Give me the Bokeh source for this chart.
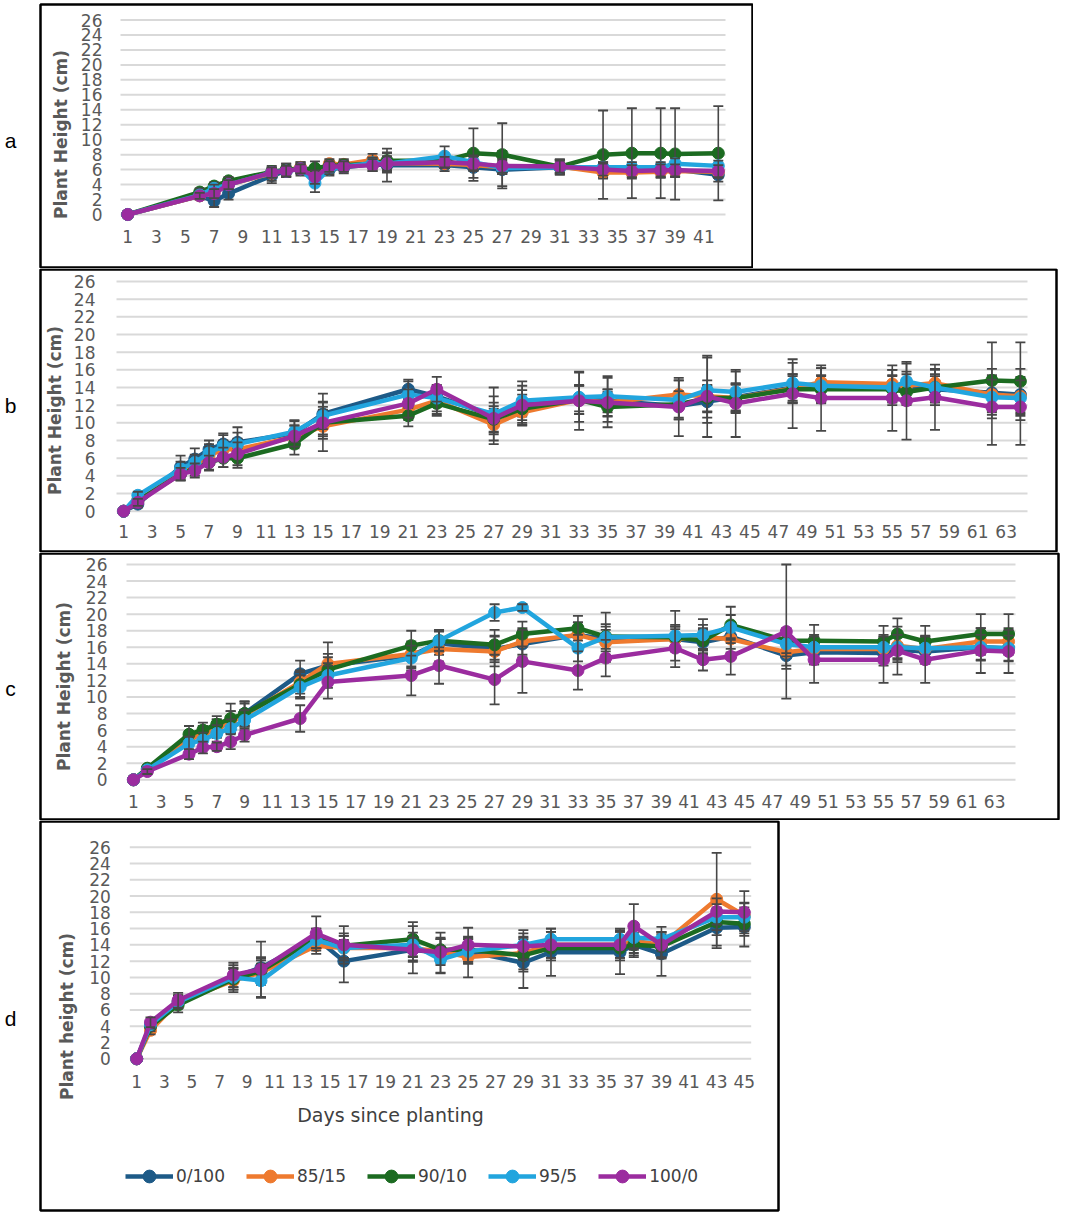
from bokeh.plotting import figure
from bokeh.models import (FixedTicker, Range1d, BoxAnnotation, Label, Legend,
                          LegendItem, ColumnDataSource, AllLabels)
from bokeh.layouts import column
from bokeh.embed import file_html
from bokeh.resources import INLINE

# ---------------- data ----------------
SERIES = ["0/100", "85/15", "90/10", "95/5", "100/0"]

DAYS_A = [1, 6, 7, 8, 11, 12, 13, 14, 15, 16, 18, 19, 23, 25, 27, 31, 34, 36, 38, 39, 42]
MEAN_A = [
    [0, 2.5, 1.8, 2.8, 5.2, 5.8, 6.2, 5.5, 6.0, 6.3, 6.7, 6.6, 6.6, 6.3, 6.0, 6.3, 6.0, 5.9, 5.9, 6.0, 5.3],
    [0, 2.5, 3.0, 4.0, 5.5, 5.9, 6.3, 5.8, 6.8, 6.7, 7.3, 6.9, 6.8, 6.6, 6.3, 6.4, 5.6, 5.6, 5.7, 5.8, 5.7],
    [0, 3.0, 3.8, 4.5, 5.7, 6.0, 6.0, 6.2, 6.5, 6.6, 6.8, 7.2, 7.2, 8.2, 8.0, 6.4, 8.0, 8.2, 8.2, 8.1, 8.2],
    [0, 2.6, 3.5, 4.0, 5.6, 5.8, 6.1, 4.2, 6.1, 6.4, 6.9, 6.8, 7.8, 7.0, 6.2, 6.3, 6.3, 6.3, 6.3, 6.8, 6.5],
    [0, 2.5, 2.8, 4.0, 5.6, 5.8, 6.1, 5.0, 6.4, 6.4, 6.6, 6.8, 7.0, 6.8, 6.5, 6.4, 6.0, 5.8, 5.9, 5.9, 5.8],
]
ERR_A = [
    [0, 0.5, 0.8, 0.8, 1.0, 0.8, 0.8, 1.0, 0.8, 0.8, 0.9, 2.2, 0.8, 1.8, 2.5, 1.0, 1.0, 0.9, 0.9, 0.9, 0.9],
    [0, 0.4, 0.6, 0.6, 1.0, 0.9, 0.7, 0.8, 0.6, 0.7, 0.8, 1.3, 0.6, 0.8, 0.9, 0.9, 0.8, 0.8, 0.8, 0.8, 0.8],
    [0, 0.5, 0.5, 0.5, 0.6, 0.8, 0.8, 0.9, 0.6, 0.6, 0.8, 1.1, 0.7, 3.3, 4.2, 1.0, 5.9, 6.0, 6.0, 6.1, 6.3],
    [0, 0.4, 0.5, 0.5, 0.6, 0.7, 0.6, 1.2, 0.7, 0.6, 0.7, 0.9, 1.3, 0.9, 0.8, 0.7, 0.7, 0.7, 0.7, 0.7, 0.7],
    [0, 0.4, 0.6, 0.6, 0.7, 0.7, 0.6, 0.9, 0.7, 0.7, 0.8, 1.0, 0.7, 0.9, 0.9, 0.8, 0.8, 0.8, 0.8, 0.8, 0.8],
]

DAYS_BC = [1, 2, 5, 6, 7, 8, 9, 13, 15, 21, 23, 27, 29, 33, 35, 40, 42, 44, 48, 50, 55, 56, 58, 62, 64]
MEAN_B = [
    [0, 0.8, 5.0, 5.9, 7.0, 7.6, 7.8, 8.8, 11.0, 13.8, 13.0, 10.8, 12.2, 12.8, 12.5, 11.9, 12.4, 12.9, 14.0, 13.9, 13.9, 14.0, 13.8, 13.4, 13.2],
    [0, 1.2, 4.3, 5.2, 6.3, 7.0, 7.0, 8.4, 9.6, 11.5, 12.5, 9.8, 11.2, 12.6, 12.3, 13.2, 13.0, 12.8, 13.9, 14.6, 14.4, 14.2, 14.5, 13.2, 13.0],
    [0, 1.2, 4.2, 4.8, 5.5, 6.0, 6.0, 7.6, 10.0, 10.8, 12.2, 10.4, 11.6, 12.6, 11.8, 12.1, 12.8, 12.8, 13.8, 13.8, 13.8, 13.5, 14.0, 14.8, 14.7],
    [0, 1.8, 4.8, 5.5, 6.6, 7.4, 7.6, 9.0, 10.8, 13.2, 12.8, 11.0, 12.5, 12.9, 13.0, 12.6, 13.7, 13.5, 14.5, 14.2, 14.0, 14.7, 14.0, 12.9, 12.8],
    [0, 1.0, 4.2, 4.6, 5.5, 6.1, 6.5, 8.5, 10.0, 12.2, 13.8, 10.5, 12.0, 12.5, 12.3, 11.8, 13.0, 12.2, 13.3, 12.8, 12.8, 12.5, 12.9, 11.8, 11.8],
]
ERR_B = [
    [0, 0.4, 1.3, 1.2, 1.0, 1.2, 1.7, 1.5, 2.3, 1.1, 1.2, 3.2, 1.5, 1.5, 1.3, 1.5, 1.8, 1.5, 1.5, 1.5, 1.5, 1.5, 1.5, 2.0, 2.0],
    [0, 0.4, 0.8, 0.9, 1.0, 1.0, 1.2, 1.3, 2.8, 1.2, 1.5, 1.8, 1.5, 1.6, 1.5, 1.6, 1.8, 1.7, 1.6, 1.6, 1.6, 1.6, 1.6, 2.0, 2.0],
    [0, 0.4, 0.7, 0.8, 0.9, 1.0, 1.1, 1.2, 1.5, 1.2, 1.4, 1.5, 1.6, 1.6, 1.7, 1.5, 1.5, 1.5, 1.5, 1.5, 1.5, 1.5, 1.5, 4.3, 4.4],
    [0, 0.4, 0.8, 0.9, 1.0, 1.2, 1.3, 1.2, 1.5, 1.5, 1.5, 2.0, 2.2, 2.8, 2.3, 2.2, 3.7, 2.3, 2.3, 2.0, 2.0, 2.0, 2.0, 2.0, 2.0],
    [0, 0.4, 0.7, 0.8, 0.8, 1.1, 1.3, 1.2, 1.8, 1.6, 1.4, 1.8, 2.2, 3.3, 2.8, 3.3, 4.6, 3.8, 3.9, 3.7, 3.7, 4.4, 3.7, 4.3, 4.3],
]

MEAN_C = [
    [0, 1.3, 5.0, 5.5, 6.2, 7.0, 8.0, 12.8, 13.8, 15.0, 16.5, 15.8, 16.4, 17.5, 17.0, 17.0, 16.6, 17.3, 15.0, 15.4, 15.3, 15.7, 15.5, 16.0, 15.9],
    [0, 1.2, 5.0, 5.5, 6.2, 7.0, 7.8, 11.8, 14.0, 15.2, 15.8, 15.5, 16.7, 17.5, 16.6, 17.0, 17.2, 17.0, 15.4, 15.8, 15.8, 16.2, 15.8, 16.7, 16.7],
    [0, 1.4, 5.5, 6.0, 6.7, 7.4, 8.0, 11.5, 13.3, 16.2, 16.8, 16.3, 17.6, 18.3, 17.3, 17.2, 16.8, 18.7, 16.8, 16.8, 16.7, 17.6, 16.7, 17.6, 17.6],
    [0, 1.2, 4.4, 4.8, 5.6, 6.2, 7.2, 11.2, 12.6, 14.7, 16.8, 20.2, 20.8, 15.9, 17.2, 17.4, 17.5, 18.4, 16.4, 16.0, 16.0, 16.0, 15.9, 16.0, 15.9],
    [0, 1.0, 3.1, 3.9, 4.0, 4.6, 5.4, 7.4, 11.8, 12.6, 13.8, 12.1, 14.3, 13.2, 14.7, 15.9, 14.5, 14.9, 17.9, 14.5, 14.5, 15.6, 14.5, 15.6, 15.5],
]
ERR_C = [
    [0, 0.3, 0.9, 1.0, 1.1, 1.3, 1.4, 1.6, 1.4, 1.5, 1.4, 1.6, 1.6, 1.5, 1.5, 1.5, 1.5, 1.5, 1.6, 1.5, 1.5, 1.5, 1.5, 1.6, 1.6],
    [0, 0.3, 0.9, 1.0, 1.1, 1.3, 1.4, 1.4, 2.6, 1.5, 1.5, 1.8, 1.6, 1.5, 1.5, 1.5, 1.5, 1.6, 1.6, 1.5, 1.5, 1.5, 1.5, 1.6, 1.6],
    [0, 0.3, 1.0, 0.9, 1.0, 1.8, 1.5, 1.5, 1.5, 1.8, 1.2, 1.8, 1.5, 1.5, 1.5, 1.5, 1.5, 2.2, 1.5, 1.9, 1.9, 1.9, 1.9, 2.4, 2.4],
    [0, 0.3, 0.8, 0.9, 1.0, 1.1, 1.2, 1.4, 1.5, 1.5, 1.3, 1.0, 0.4, 1.6, 3.0, 3.0, 1.9, 1.5, 1.5, 1.5, 1.5, 1.5, 1.5, 1.5, 1.5],
    [0, 0.3, 0.6, 0.7, 0.5, 0.9, 0.8, 1.6, 2.0, 2.4, 2.2, 3.0, 3.8, 2.3, 2.2, 2.3, 1.3, 2.2, 8.1, 2.8, 2.8, 2.9, 2.8, 2.7, 2.6],
]

DAYS_D = [1, 2, 4, 8, 10, 14, 16, 21, 23, 25, 29, 31, 36, 37, 39, 43, 45]
MEAN_D = [
    [0, 4.0, 7.0, 10.0, 11.2, 14.8, 12.0, 13.4, 13.0, 13.2, 11.8, 13.1, 13.1, 14.0, 12.9, 16.1, 16.2],
    [0, 3.5, 7.0, 9.6, 10.6, 13.9, 13.6, 13.6, 13.2, 12.5, 13.0, 14.0, 14.0, 14.5, 14.0, 19.6, 17.6],
    [0, 4.0, 6.6, 9.8, 10.8, 14.8, 13.9, 14.7, 13.4, 13.4, 12.7, 13.6, 13.6, 14.0, 13.8, 16.8, 16.6],
    [0, 4.2, 7.0, 10.0, 9.6, 14.6, 13.6, 14.0, 12.2, 13.2, 14.0, 14.7, 14.7, 14.9, 14.7, 17.4, 17.4],
    [0, 4.5, 7.2, 10.3, 11.0, 15.4, 14.0, 13.4, 13.1, 14.0, 13.8, 14.0, 14.0, 16.3, 14.0, 18.1, 18.0],
]
ERR_D = [
    [0, 0.6, 0.8, 1.5, 1.3, 1.2, 2.6, 2.9, 2.5, 1.5, 3.1, 2.9, 2.7, 1.3, 2.7, 2.5, 2.4],
    [0, 0.5, 0.8, 1.4, 1.5, 1.0, 1.5, 1.5, 1.5, 2.5, 2.0, 1.6, 1.6, 1.5, 1.5, 5.7, 1.6],
    [0, 0.6, 0.9, 1.3, 1.5, 1.2, 1.5, 2.1, 1.5, 1.5, 2.0, 1.5, 1.5, 1.5, 1.5, 1.6, 1.5],
    [0, 0.5, 0.8, 1.2, 2.1, 1.0, 1.5, 1.5, 1.6, 1.5, 1.8, 1.3, 1.3, 1.5, 1.5, 1.6, 1.7],
    [0, 0.6, 0.9, 1.5, 3.4, 2.1, 2.3, 1.5, 1.6, 2.1, 1.6, 1.6, 1.6, 2.7, 1.6, 1.6, 2.6],
]

Y_TICKS = list(range(0, 27, 2))
X_TICKS_A = list(range(1, 42, 2))
X_TICKS_BC = list(range(1, 64, 2))
X_TICKS_D = list(range(1, 46, 2))

# ---------------- style ----------------
COLORS = ["#1d5a87", "#ee7a2f", "#1c6b21", "#22a5de", "#9b2c9f"]
FONT = "DejaVu Sans"
TICK_COLOR = "#595959"
GRID_COLOR = "#d9d9d9"
ERR_COLOR = "#474747"
X_AXIS_Y = -0.9   # level (in data units) at which the category labels hang
Y_TOP = 26.0

# geometry in page pixels (canvas = whole panel, frame = canvas)
GEOM = {
    "a": dict(ctop=0, h=268, w=753, xlo=120, xhi=725, y0=214, y26=19.5,
              bl=40, br=752, bt=4, bb=267, lx=10, ly=140,
              ystd=18, tstd=7, xstd=9),
    "b": dict(ctop=268, h=284, w=1058, xlo=116, xhi=1027, y0=510.7, y26=281,
              bl=40, br=1056, bt=269, bb=551, lx=10, ly=405,
              ystd=21, tstd=6, xstd=6),
    "c": dict(ctop=552, h=268, w=1060, xlo=126, xhi=1015, y0=779.3, y26=564,
              bl=40, br=1058, bt=553, bb=819, lx=10, ly=688,
              ystd=19, tstd=9, xstd=8),
    "d": dict(ctop=820, h=392, w=780, xlo=129.3, xhi=750.7, y0=1058.3, y26=846.7,
              bl=40, br=778, bt=821, bb=1210, lx=10, ly=1018,
              ystd=19, tstd=9, xstd=9),
}


def make_panel(letter, days, means, errs, xticks, xmax, ytitle,
               xlabel=None, legend=False):
    g = GEOM[letter]
    ppu = (g["y0"] - g["y26"]) / 26.0
    ppd = (g["xhi"] - g["xlo"]) / float(xmax)
    cb = g["ctop"] + g["h"]
    x_start = 0.5 - g["xlo"] / ppd
    x_end = xmax + 0.5 + (g["w"] - g["xhi"]) / ppd
    y_start = -(cb - g["y0"]) / ppu
    y_end = 26 + (g["y26"] - g["ctop"]) / ppu

    p = figure(width=g["w"], height=g["h"],
               x_range=Range1d(x_start, x_end), y_range=Range1d(y_start, y_end),
               output_backend="svg", toolbar_location=None,
               min_border_left=0, min_border_right=0,
               min_border_top=0, min_border_bottom=0)
    p.title.visible = False
    p.outline_line_color = None
    p.background_fill_color = "white"
    p.border_fill_color = "white"
    p.xgrid.visible = False
    p.ygrid.visible = False

    # horizontal gridlines restricted to the plotting area
    gsrc = ColumnDataSource(dict(y=Y_TICKS, x0=[0.5] * len(Y_TICKS),
                                 x1=[xmax + 0.5] * len(Y_TICKS)))
    p.segment(x0="x0", x1="x1", y0="y", y1="y", source=gsrc,
              line_color=GRID_COLOR, line_width=2)

    p.yaxis.ticker = FixedTicker(ticks=Y_TICKS)
    p.xaxis.ticker = FixedTicker(ticks=xticks)
    p.yaxis.fixed_location = 0.5
    p.xaxis.fixed_location = X_AXIS_Y

    for ax in (p.xaxis[0], p.yaxis[0]):
        ax.axis_line_color = None
        ax.major_tick_line_color = None
        ax.minor_tick_line_color = None
        ax.major_tick_out = 0
        ax.major_tick_in = 0
        ax.minor_tick_out = 0
        ax.major_label_text_font = FONT
        ax.major_label_text_font_size = "17px"
        ax.major_label_text_color = TICK_COLOR
        ax.major_label_policy = AllLabels()
    p.yaxis.major_label_standoff = g["ystd"]
    p.xaxis.major_label_standoff = g["xstd"]
    p.yaxis.axis_label = ytitle
    p.yaxis.axis_label_text_font = FONT
    p.yaxis.axis_label_text_font_size = "17px"
    p.yaxis.axis_label_text_font_style = "bold"
    p.yaxis.axis_label_text_color = TICK_COLOR
    p.yaxis.axis_label_standoff = g["tstd"]
    if xlabel:
        p.xaxis.axis_label = xlabel
        p.xaxis.axis_label_text_font = FONT
        p.xaxis.axis_label_text_font_size = "19px"
        p.xaxis.axis_label_text_font_style = "normal"
        p.xaxis.axis_label_text_color = "#404040"
        p.xaxis.axis_label_standoff = 12

    items = []
    for name, col, m, e in zip(SERIES, COLORS, means, errs):
        src = ColumnDataSource(dict(x=days, y=m))
        lr = p.line("x", "y", source=src, line_color=col, line_width=4.5,
                    line_join="round")
        sr = p.scatter("x", "y", source=src, size=12, marker="circle",
                       fill_color=col, line_color=col)
        keep = [i for i, v in enumerate(e) if v > 0]
        xs = [days[i] for i in keep]
        lo = [m[i] - e[i] for i in keep]
        hi = [min(m[i] + e[i], Y_TOP) for i in keep]
        esrc = ColumnDataSource(dict(x=xs, lo=lo, hi=hi))
        p.segment(x0="x", y0="lo", x1="x", y1="hi", source=esrc,
                  line_color=ERR_COLOR, line_width=1.6)
        capped = [i for i in keep if m[i] + e[i] <= Y_TOP]
        csrc = ColumnDataSource(dict(x=[days[i] for i in capped],
                                     hi=[m[i] + e[i] for i in capped]))
        p.scatter("x", "hi", source=csrc, marker="dash", size=10,
                  line_color=ERR_COLOR, line_width=1.8)
        p.scatter("x", "lo", source=esrc, marker="dash", size=10,
                  line_color=ERR_COLOR, line_width=1.8)
        items.append(LegendItem(label=name, renderers=[lr, sr]))

    # panel border and letter (screen units: from canvas bottom-left, y up)
    box = BoxAnnotation(left=g["bl"], right=g["br"],
                        top=cb - g["bt"], bottom=cb - g["bb"],
                        left_units="screen", right_units="screen",
                        top_units="screen", bottom_units="screen",
                        fill_color=None, fill_alpha=0,
                        line_color="black", line_alpha=1.0, line_width=2.5)
    p.add_layout(box)
    p.add_layout(Label(x=g["lx"], y=cb - g["ly"], x_units="screen",
                       y_units="screen", text=letter, text_align="center",
                       text_baseline="middle", text_font="Liberation Sans",
                       text_font_size="21px", text_color="black"))

    if legend:
        leg = Legend(items=items, orientation="horizontal",
                     location=(125, cb - 1192),
                     glyph_width=48, glyph_height=32, label_standoff=3,
                     spacing=21, padding=0, margin=0,
                     label_text_font=FONT, label_text_font_size="17px",
                     label_text_color="#404040",
                     border_line_color=None, background_fill_alpha=0)
        p.add_layout(leg, "center")
    return p


pa = make_panel("a", DAYS_A, MEAN_A, ERR_A, X_TICKS_A, 42, "Plant Height (cm)")
pb = make_panel("b", DAYS_BC, MEAN_B, ERR_B, X_TICKS_BC, 64, "Plant Height (cm)")
pc = make_panel("c", DAYS_BC, MEAN_C, ERR_C, X_TICKS_BC, 64, "Plant Height (cm)")
pd = make_panel("d", DAYS_D, MEAN_D, ERR_D, X_TICKS_D, 45, "Plant height (cm)",
                xlabel="Days since planting", legend=True)

layout = column(pa, pb, pc, pd, spacing=0)
open("out.html", "w").write(file_html(layout, INLINE))
